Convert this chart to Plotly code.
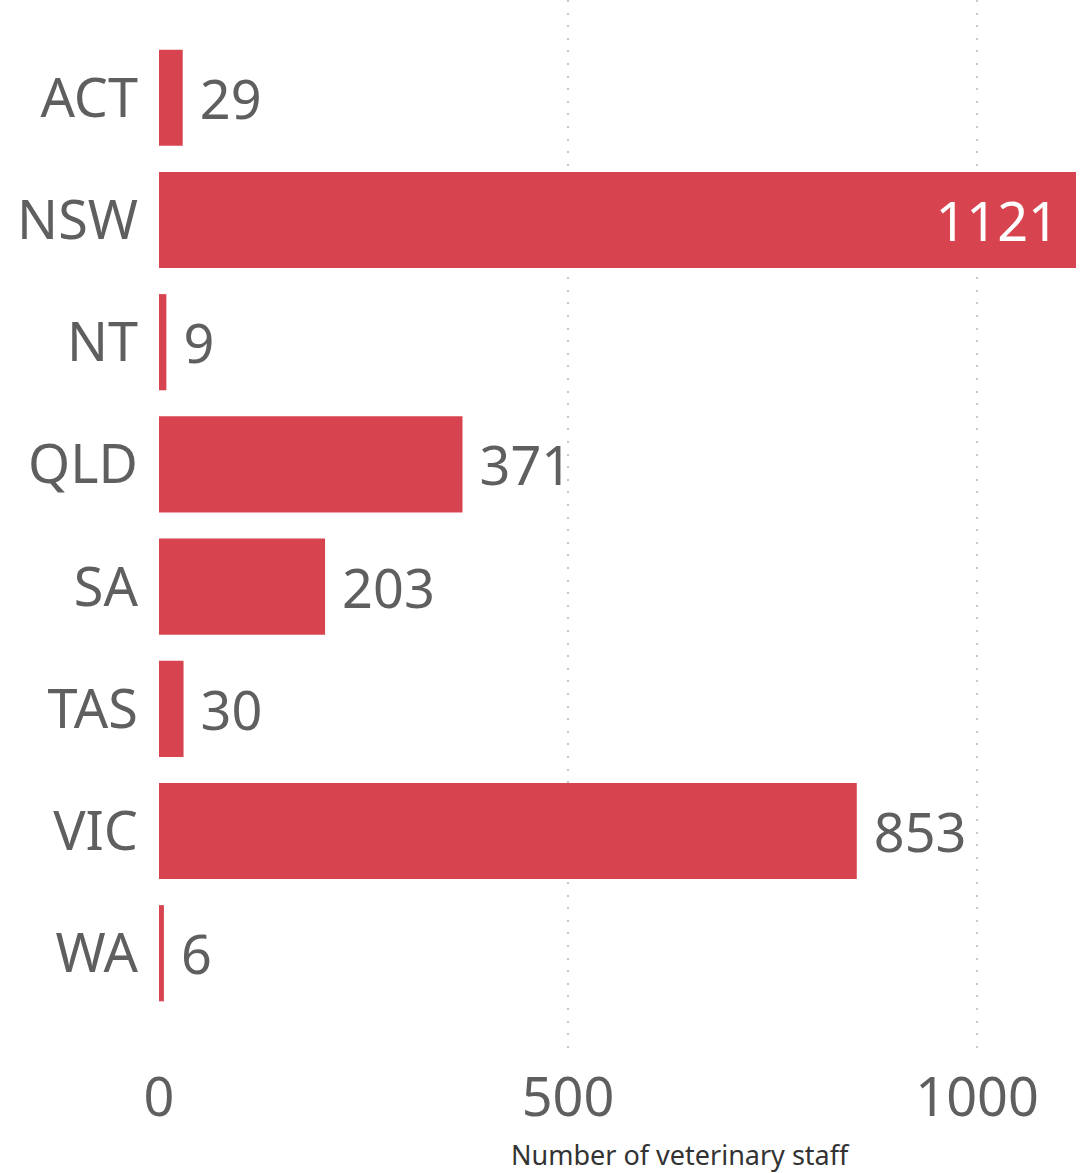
import plotly.graph_objects as go

states = ["ACT", "NSW", "NT", "QLD", "SA", "TAS", "VIC", "WA"]
staff = [29, 1121, 9, 371, 203, 30, 853, 6]
x_ticks = [0, 500, 1000]
x_title = "Number of veterinary staff"

BAR = "#D7444F"
TXT = "#5f5f5f"
FONT = "Noto Sans, Open Sans, sans-serif"
NB = "\u00a0"

top = max(staff)
positions = ["inside" if v == top else "outside" for v in staff]
labels = [(str(v) + NB) if v == top else (NB + str(v)) for v in staff]

fig = go.Figure(go.Bar(
    x=staff, y=states, orientation="h",
    marker=dict(color=BAR, line=dict(width=0)),
    width=0.787,
    text=labels,
    textposition=positions,
    insidetextanchor="end",
    insidetextfont=dict(color="white", size=54, family=FONT),
    outsidetextfont=dict(color=TXT, size=54, family=FONT),
    constraintext="none",
    cliponaxis=False,
    hoverinfo="skip",
))

fig.update_layout(
    width=1088, height=1173,
    margin=dict(l=159, r=12, t=0, b=122, autoexpand=False),
    paper_bgcolor="white", plot_bgcolor="white",
    showlegend=False,
    font=dict(family=FONT, color=TXT, size=54),
    xaxis=dict(
        range=[0, 1121], tickvals=x_ticks, ticktext=[str(t) for t in x_ticks],
        showgrid=True, gridcolor="#c8c8c8", gridwidth=2, griddash="2px,10.6px",
        zeroline=False, showline=False, ticks="", automargin=False,
        ticklabelstandoff=10,
        tickfont=dict(size=54, color=TXT, family=FONT),
    ),
    yaxis=dict(
        categoryorder="array", categoryarray=states,
        range=[7.8, -0.8],
        showgrid=False, zeroline=False, showline=False, ticks="", automargin=False,
        ticklabelstandoff=20,
        tickfont=dict(size=54, color=TXT, family=FONT),
    ),
    annotations=[dict(
        text=x_title, xref="paper", yref="paper", x=0.569, y=0,
        yshift=-103, xanchor="center", yanchor="middle", showarrow=False,
        font=dict(size=27, color="#333333", family=FONT),
    )],
)

fig.write_html(
    "out.html",
    config={"displayModeBar": False},
    post_script="document.body.style.margin='0';document.body.style.padding='0';document.body.style.overflow='hidden';",
)
